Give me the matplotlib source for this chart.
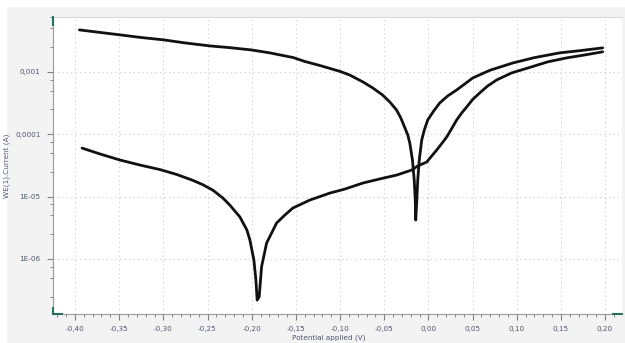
import matplotlib
matplotlib.use("Agg")
import matplotlib.pyplot as plt
import matplotlib.ticker as mticker
from matplotlib.patches import Rectangle
from matplotlib.lines import Line2D

# Curve A (starts high on the left, corrosion dip near -0.015 V)
E_a = [-0.395, -0.3717, -0.349, -0.3265, -0.300, -0.2756, -0.247, -0.2247,
       -0.200, -0.1794, -0.153, -0.1398, -0.123, -0.100, -0.0889, -0.074,
       -0.0629, -0.052, -0.0437, -0.036, -0.0312, -0.027, -0.0233, -0.021,
       -0.018, -0.016, -0.0148, -0.0143,
       -0.0131, -0.0120, -0.0103, -0.0075, -0.0046, -0.0007, 0.0061, 0.0129,
       0.0219, 0.0321, 0.0412, 0.0502, 0.0695, 0.0955, 0.1204, 0.1486,
       0.1713, 0.1973]
I_a = [4.72e-3, 4.30e-3, 3.93e-3, 3.58e-3, 3.27e-3, 2.92e-3, 2.61e-3, 2.45e-3,
       2.25e-3, 2.02e-3, 1.70e-3, 1.47e-3, 1.27e-3, 1.02e-3, 8.9e-4, 6.9e-4,
       5.53e-4, 4.28e-4, 3.30e-4, 2.45e-4, 1.83e-4, 1.31e-4, 9.75e-5, 7.2e-5,
       3.86e-5, 1.85e-5, 8.8e-6, 4.2e-6,
       8.8e-6, 1.85e-5, 3.86e-5, 8.1e-5, 1.17e-4, 1.70e-4, 2.37e-4, 3.18e-4,
       4.12e-4, 5.14e-4, 6.41e-4, 8.0e-4, 1.06e-3, 1.39e-3, 1.70e-3, 2.02e-3,
       2.19e-3, 2.43e-3]

# Curve B (starts low on the left, dip near -0.194 V)
E_b = [-0.392, -0.3717, -0.349, -0.3265, -0.304, -0.2846, -0.2665, -0.2552,
       -0.244, -0.2326, -0.2247, -0.2133,
       -0.2054, -0.2020, -0.1975, -0.1952, -0.1938, -0.1915, -0.1888, -0.1831,
       -0.1718, -0.1624, -0.1534, -0.1342, -0.1229, -0.1115, -0.0946, -0.0742,
       -0.0550, -0.0357, -0.0188, -0.0120,
       -0.0018, 0.0038, 0.0095, 0.0152, 0.0208, 0.0265, 0.0321, 0.0378, 0.0434,
       0.0502, 0.0581, 0.0672, 0.0774, 0.0943, 0.1147, 0.1351,
       0.1566, 0.1769, 0.1973]
I_b = [6.0e-5, 4.83e-5, 3.86e-5, 3.21e-5, 2.72e-5, 2.26e-5, 1.82e-5, 1.55e-5,
       1.27e-5, 9.5e-6, 7.3e-6, 4.71e-6,
       2.91e-6, 2.01e-6, 9.6e-7, 4.58e-7, 2.19e-7, 2.47e-7, 7.5e-7, 1.80e-6,
       3.77e-6, 5.07e-6, 6.56e-6, 8.8e-6, 1.00e-5, 1.14e-5, 1.32e-5, 1.65e-5,
       1.92e-5, 2.22e-5, 2.67e-5, 3.10e-5,
       3.59e-5, 4.49e-5, 5.6e-5, 7.11e-5, 9.05e-5, 1.24e-4, 1.70e-4, 2.20e-4,
       2.74e-4, 3.62e-4, 4.60e-4, 5.96e-4, 7.44e-4, 9.64e-4, 1.18e-3, 1.45e-3,
       1.68e-3, 1.87e-3, 2.10e-3]

x_ticks = [-0.40, -0.35, -0.30, -0.25, -0.20, -0.15, -0.10, -0.05, 0.00,
           0.05, 0.10, 0.15, 0.20]
x_labels = ["-0,40", "-0,35", "-0,30", "-0,25", "-0,20", "-0,15", "-0,10",
            "-0,05", "0,00", "0,05", "0,10", "0,15", "0,20"]
y_ticks = [1e-3, 1e-4, 1e-5, 1e-6]
y_labels = ["0,001", "0,0001", "1E-05", "1E-06"]

W, H = 625, 343
fig = plt.figure(figsize=(W / 100, H / 100), dpi=100)
fig.patch.set_facecolor("#f3f3f3")
# white border strips (top and left)
fig.add_artist(Rectangle((0, 1 - 7 / H), 1, 7 / H, transform=fig.transFigure,
                         facecolor="white", edgecolor="none", zorder=0))
fig.add_artist(Rectangle((0, 0), 7 / W, 1, transform=fig.transFigure,
                         facecolor="white", edgecolor="none", zorder=0))

left, right, top, bottom = 53, 622, 17, 314
ax = fig.add_axes([left / W, 1 - bottom / H, (right - left) / W, (bottom - top) / H])
ax.set_facecolor("white")

for E, I in [(E_a, I_a), (E_b, I_b)]:
    ax.plot(E, I, color="#111111", lw=2.0, solid_joinstyle="round",
            solid_capstyle="round", zorder=3)

ax.set_yscale("log")
ax.set_xlim(-0.4249, 0.2192)
ax.set_ylim(1.31e-7, 7.6e-3)

ax.set_xticks(x_ticks)
ax.set_xticklabels(x_labels)
ax.xaxis.set_minor_locator(mticker.MultipleLocator(0.01))
ax.set_yticks(y_ticks)
ax.set_yticklabels(y_labels)
ax.yaxis.set_minor_locator(mticker.LogLocator(base=10, subs=(2.5, 5.0, 7.5)))
ax.yaxis.set_minor_formatter(mticker.NullFormatter())

tc = "#4a5670"
ax.tick_params(axis="both", which="major", length=4, width=0.8, color="#808080",
               labelsize=5.2, labelcolor=tc, pad=5)
ax.tick_params(axis="both", which="minor", length=2, width=0.7, color="#808080")

ax.grid(True, which="major", color="#c8c8c8", linestyle=(0, (1, 3)), lw=0.8)

ax.spines["right"].set_visible(False)
ax.spines["top"].set_color("#d8d8d8")
ax.spines["left"].set_color("#9a9a9a")
ax.spines["bottom"].set_color("#9a9a9a")
for s in ["top", "left", "bottom"]:
    ax.spines[s].set_linewidth(0.8)

ax.set_xlabel("Potential applied (V)", fontsize=5.2, color=tc)
ax.xaxis.set_label_coords(0.485, -0.068)
ax.set_ylabel("WE(1).Current (A)", fontsize=5.2, color=tc)
ax.yaxis.set_label_coords(-0.075, 0.5)

# teal corner markers
teal = "#1d6e5e"
fx = lambda px: px / W
fy = lambda py: 1 - py / H
for xs, ys in [([left, left], [top, top + 8]),
               ([left, left], [bottom - 6, bottom]),
               ([left, left + 9], [bottom, bottom]),
               ([right - 9, right], [bottom, bottom])]:
    fig.add_artist(Line2D([fx(v) for v in xs], [fy(v) for v in ys],
                          color=teal, lw=1.4, transform=fig.transFigure, zorder=5))

fig.savefig("out.png", dpi=100, facecolor=fig.get_facecolor())
